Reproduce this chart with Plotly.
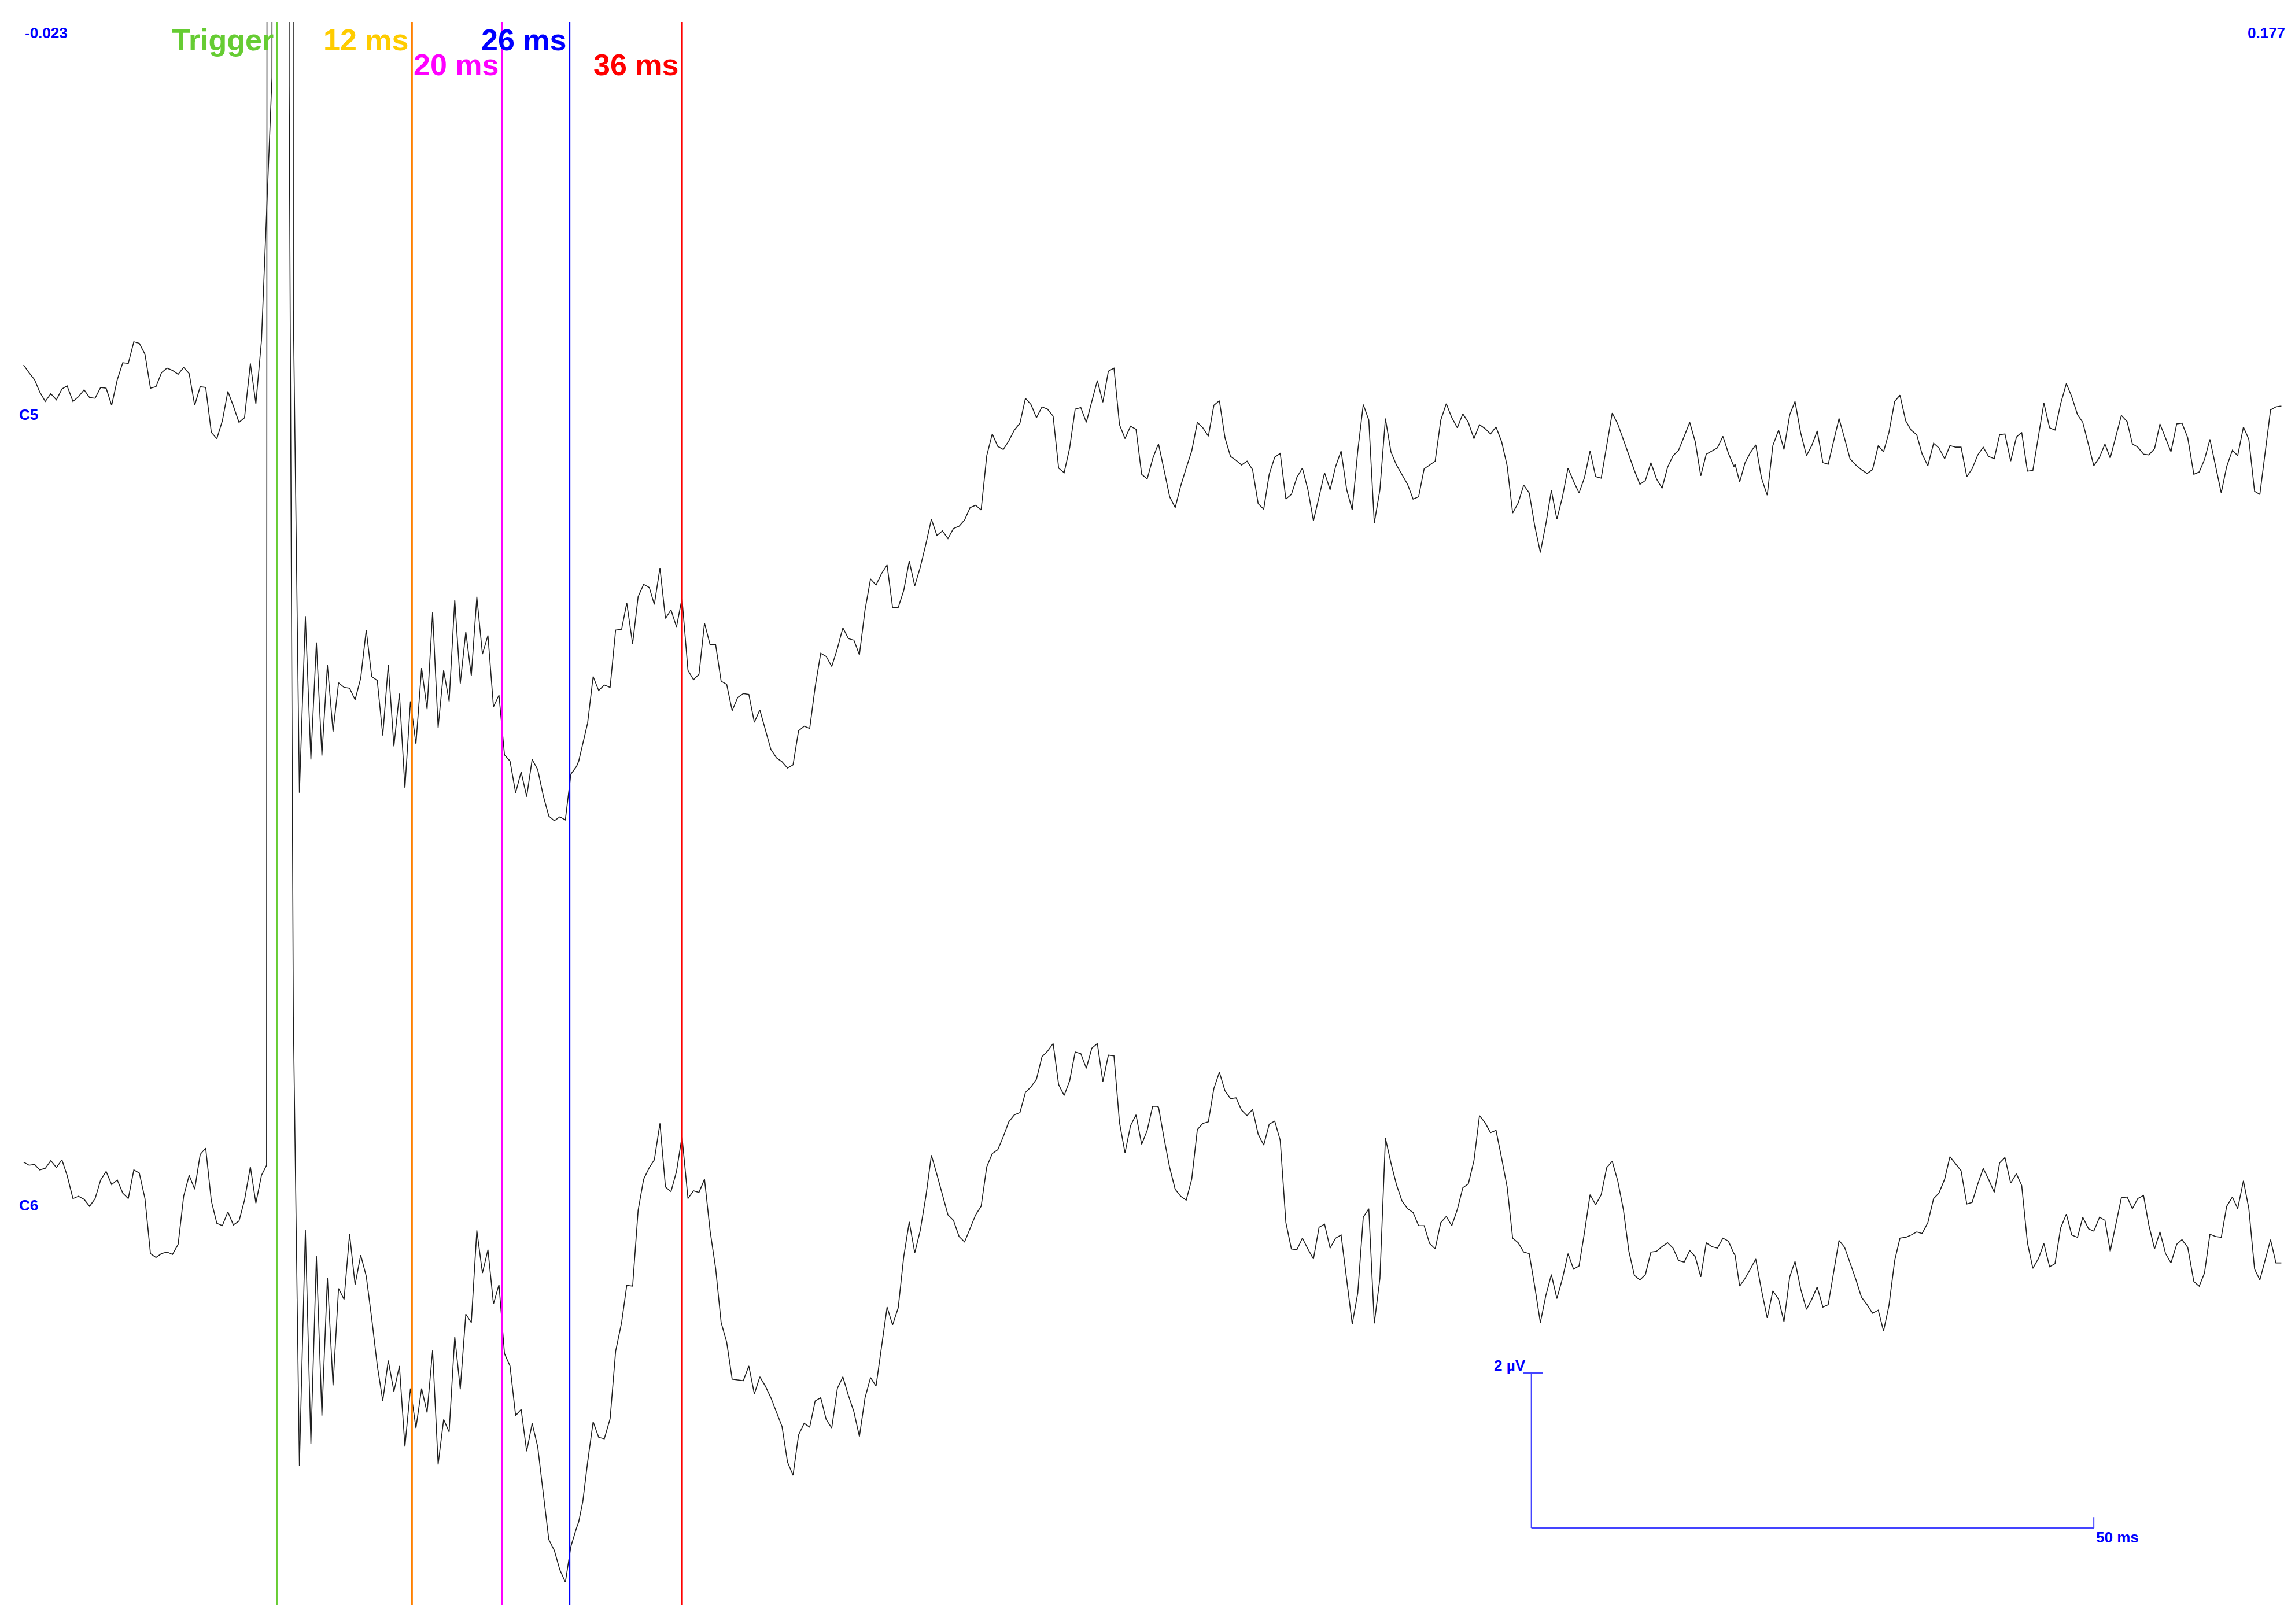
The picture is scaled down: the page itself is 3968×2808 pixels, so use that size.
import plotly.graph_objects as go

# ---------------- data: time (ms) / amplitude (µV) ----------------
# pre-stimulus samples
T_PRE = [-22.53,-22.04,-21.55,-21.09,-20.60,-20.11,-19.61,-19.12,-18.66,-18.14,-17.65,-17.15,-16.66,-16.17,
         -15.68,-15.19,-14.70,-14.20,-13.71,-13.22,-12.73,-12.24,-11.74,-11.25,-10.76,-10.27,-9.78,-9.29,
         -8.79,-8.30,-7.81,-7.32,-6.83,-6.34,-5.84,-5.35,-4.86,-4.37,-3.88,-3.38,-2.89,-2.37,-1.88,-1.38]
C5_PRE = [0.29,0.19,0.10,-0.06,-0.18,-0.08,-0.16,-0.02,0.02,-0.18,-0.12,-0.03,-0.13,-0.14,0.00,-0.01,
          -0.23,0.10,0.32,0.31,0.59,0.57,0.43,-0.01,0.01,0.19,0.25,0.22,0.17,0.26,0.18,-0.23,0.01,0.00,
          -0.58,-0.66,-0.43,-0.05,-0.24,-0.45,-0.39,0.31,-0.21,0.61]
C6_PRE = [0.12,0.08,0.09,0.02,0.04,0.14,0.05,0.15,-0.05,-0.35,-0.32,-0.36,-0.45,-0.35,-0.11,0.00,
          -0.17,-0.11,-0.28,-0.35,0.02,-0.02,-0.35,-1.06,-1.11,-1.06,-1.04,-1.07,-0.94,-0.32,-0.05,-0.23,
          0.22,0.30,-0.38,-0.67,-0.70,-0.52,-0.69,-0.64,-0.37,0.06,-0.41,-0.05]

# stimulus artefact (goes far off-scale)
T_ART_C5 = [-0.45, 0.05, 0.95, 1.45]
C5_ART = [4.0, 200.0, 200.0, 1.0]
T_ART_C6 = [-0.93, -0.45, 0.60, 1.08, 1.45]
C6_ART = [0.08, 200.0, 200.0, 14.0, 2.0]

# 2 - 27 ms
T_A = [1.99,2.52,3.01,3.50,3.99,4.48,4.98,5.47,5.96,6.45,6.94,7.44,7.93,8.42,8.91,9.40,9.89,10.39,10.88,
       11.37,11.86,12.35,12.85,13.34,13.83,14.32,14.81,15.30,15.80,16.29,16.78,17.27,17.76,18.26,18.75,
       19.24,19.73,20.22,20.71,21.21,21.70,22.19,22.68,23.17,23.67,24.16,24.65,25.14,25.63,26.12,26.62]
C5_A = [-5.23,-2.95,-4.80,-3.29,-4.75,-3.58,-4.44,-3.81,-3.87,-3.88,-4.03,-3.75,-3.13,-3.73,-3.78,-4.49,
        -3.58,-4.63,-3.95,-5.17,-4.05,-4.60,-3.62,-4.15,-2.90,-4.39,-3.65,-4.05,-2.74,-3.82,-3.15,-3.72,
        -2.70,-3.44,-3.20,-4.12,-3.97,-4.74,-4.82,-5.23,-4.96,-5.28,-4.80,-4.93,-5.27,-5.53,-5.59,-5.54,
        -5.58,-4.99,-4.89]
C6_A = [-3.80,-0.75,-3.51,-1.09,-3.15,-1.37,-2.76,-1.51,-1.65,-0.81,-1.46,-1.08,-1.35,-1.90,-2.50,-2.96,
        -2.44,-2.84,-2.51,-3.55,-2.80,-3.31,-2.80,-3.11,-2.31,-3.78,-3.20,-3.36,-2.13,-2.81,-1.84,-1.95,
        -0.76,-1.31,-1.01,-1.71,-1.46,-2.35,-2.51,-3.15,-3.07,-3.61,-3.25,-3.55,-4.15,-4.75,-4.89,-5.14,
        -5.30,-4.84,-4.60]

# 27 - 78 ms
T_B = [26.82,27.18,27.61,28.10,28.59,29.09,29.61,30.10,30.63,31.09,31.61,32.10,32.59,33.09,33.54,34.04,
       34.53,35.02,35.51,36.00,36.53,37.02,37.51,38.00,38.50,38.99,39.48,39.97,40.46,40.95,41.45,41.94,
       42.43,42.92,43.41,43.90,44.40,44.89,45.38,45.87,46.36,46.86,47.35,47.84,48.33,48.82,49.31,49.81,
       50.30,50.79,51.28,51.77,52.27,52.76,53.25,53.74,54.23,54.72,55.22,55.71,56.20,56.69,57.18,57.68,
       58.17,58.66,59.15,59.64,60.13,60.63,61.12,61.61,62.10,62.59,63.09,63.58,64.07,64.56,65.05,65.54,
       66.04,66.53,67.02,67.51,68.00,68.49,68.99,69.48,69.97,70.46,70.95,71.45,71.94,72.43,72.92,73.41,
       73.90,74.40,74.89,75.38,75.87,76.36,76.86,77.35,77.84,78.20]
C5_B = [-4.82,-4.60,-4.33,-3.73,-3.91,-3.84,-3.87,-3.13,-3.12,-2.78,-3.31,-2.70,-2.54,-2.58,-2.80,-2.33,
        -2.98,-2.87,-3.09,-2.72,-3.65,-3.77,-3.70,-3.04,-3.32,-3.32,-3.79,-3.83,-4.17,-4.00,-3.95,-3.96,
        -4.32,-4.16,-4.42,-4.67,-4.78,-4.83,-4.91,-4.87,-4.43,-4.37,-4.40,-3.86,-3.43,-3.47,-3.60,-3.37,
        -3.10,-3.24,-3.26,-3.45,-2.87,-2.47,-2.55,-2.40,-2.29,-2.84,-2.84,-2.62,-2.24,-2.56,-2.32,-2.02,
        -1.70,-1.91,-1.85,-1.95,-1.82,-1.79,-1.71,-1.55,-1.52,-1.58,-0.88,-0.60,-0.76,-0.80,-0.69,-0.55,
        -0.46,-0.14,-0.22,-0.39,-0.25,-0.28,-0.37,-1.04,-1.10,-0.78,-0.28,-0.26,-0.45,-0.18,0.09,-0.19,
        0.21,0.25,-0.48,-0.66,-0.50,-0.54,-1.12,-1.18,-0.92,-0.78]
C6_B = [-4.52,-4.26,-3.75,-3.23,-3.43,-3.45,-3.19,-2.32,-1.95,-1.47,-1.48,-0.50,-0.10,0.05,0.15,0.62,
        -0.20,-0.26,0.00,0.45,-0.35,-0.25,-0.27,-0.10,-0.77,-1.25,-1.95,-2.20,-2.68,-2.69,-2.70,-2.51,
        -2.87,-2.65,-2.77,-2.92,-3.10,-3.29,-3.75,-3.92,-3.40,-3.25,-3.30,-2.96,-2.92,-3.20,-3.31,-2.80,
        -2.65,-2.89,-3.10,-3.42,-2.92,-2.66,-2.77,-2.27,-1.75,-1.98,-1.76,-1.10,-0.65,-1.05,-0.76,-0.32,
        0.21,-0.04,-0.30,-0.56,-0.63,-0.84,-0.91,-0.74,-0.56,-0.45,0.06,0.23,0.28,0.45,0.64,0.73,
        0.76,1.02,1.09,1.19,1.48,1.55,1.65,1.12,0.98,1.17,1.54,1.52,1.33,1.59,1.65,1.16,
        1.50,1.49,0.63,0.24,0.59,0.73,0.35,0.53,0.84,0.84]

# 78 - 130 ms
T_C = [78.36,78.86,79.35,79.84,80.33,80.82,81.31,81.81,82.30,82.79,83.28,83.77,84.27,84.76,85.25,85.74,
       86.23,86.72,87.22,87.71,88.20,88.69,89.18,89.68,90.17,90.66,91.15,91.64,92.13,92.63,93.12,93.61,
       94.10,94.59,95.09,95.58,96.07,96.56,97.05,97.54,98.04,98.53,99.02,99.51,100.00,100.50,100.99,
       101.48,101.97,102.46,102.95,103.45,103.94,104.43,104.92,105.41,105.90,106.40,106.89,107.38,107.87,
       108.36,108.86,109.35,109.84,110.33,110.82,111.31,111.81,112.30,112.79,113.28,113.77,114.27,114.76,
       115.25,115.74,116.23,116.72,117.22,117.71,118.20,118.69,119.18,119.68,120.17,120.66,121.15,121.64,
       122.13,122.63,123.12,123.61,124.10,124.59,125.09,125.58,126.07,126.56,127.05,127.54,128.04,128.53,
       129.02,129.51]
C5_C = [-0.73,-1.07,-1.41,-1.55,-1.27,-1.04,-0.82,-0.45,-0.52,-0.63,-0.23,-0.17,-0.65,-0.89,-0.94,-1.00,
        -0.95,-1.06,-1.50,-1.57,-1.12,-0.90,-0.85,-1.44,-1.38,-1.16,-1.04,-1.32,-1.72,-1.41,-1.10,-1.32,
        -1.02,-0.82,-1.32,-1.58,-0.82,-0.22,-0.42,-1.75,-1.32,-0.40,-0.83,-1.00,-1.12,-1.25,-1.44,-1.41,
        -1.05,-1.00,-0.95,-0.42,-0.21,-0.39,-0.52,-0.34,-0.45,-0.66,-0.48,-0.53,-0.60,-0.51,-0.70,-1.01,
        -1.62,-1.49,-1.26,-1.36,-1.79,-2.13,-1.76,-1.33,-1.70,-1.41,-1.04,-1.21,-1.36,-1.16,-0.82,-1.15,
        -1.17,-0.75,-0.33,-0.47,-0.67,-0.88,-1.07,-1.25,-1.20,-0.97,-1.18,-1.30,-1.03,-0.88,-0.81,-0.63,
        -0.45,-0.70,-1.14,-0.86,-0.82,-0.78,-0.63,-0.85,-1.02]
C6_C = [0.83,0.42,0.05,-0.23,-0.32,-0.37,-0.10,0.54,0.62,0.64,1.07,1.28,1.04,0.94,0.95,0.79,0.72,0.80,
        0.48,0.34,0.61,0.65,0.40,-0.66,-1.00,-1.01,-0.86,-1.00,-1.13,-0.72,-0.68,-0.99,-0.86,-0.82,-1.38,
        -1.97,-1.57,-0.59,-0.48,-1.96,-1.38,0.43,0.11,-0.17,-0.38,-0.48,-0.53,-0.70,-0.70,-0.93,-1.00,
        -0.66,-0.58,-0.70,-0.49,-0.21,-0.16,0.14,0.72,0.63,0.50,0.53,0.17,-0.20,-0.86,-0.92,-1.04,-1.06,
        -1.49,-1.95,-1.60,-1.33,-1.64,-1.38,-1.06,-1.26,-1.22,-0.78,-0.30,-0.43,-0.30,0.05,0.13,-0.12,
        -0.49,-1.03,-1.34,-1.40,-1.33,-1.04,-1.03,-0.97,-0.92,-0.99,-1.15,-1.17,-1.02,-1.10,-1.36,-0.92,
        -0.97,-0.99,-0.86,-0.90,-1.06]

# 130 - 178 ms
T_D = [129.61,130.02,130.50,130.97,131.45,131.96,132.47,132.97,133.48,133.96,134.47,134.94,135.45,135.96,
       136.43,136.91,137.42,137.89,138.37,138.85,139.35,139.83,140.34,140.84,141.35,141.83,142.34,142.81,
       143.29,143.80,144.27,144.78,145.26,145.76,146.24,146.75,147.26,147.73,148.24,148.71,149.22,149.70,
       150.21,150.68,151.19,151.67,152.14,152.65,153.13,153.60,154.11,154.62,155.09,155.60,156.08,156.59,
       157.06,157.57,158.05,158.55,159.06,159.54,160.05,160.52,161.03,161.50,162.01,162.49,162.96,163.47,
       163.95,164.46,164.93,165.41,165.92,166.39,166.90,167.38,167.88,168.36,168.87,169.34,169.85,170.39,
       170.87,171.34,171.82,172.33,172.83,173.31,173.82,174.29,174.80,175.28,175.79,176.26,176.74,177.21,
       177.69,178.17]
C5_D = [-0.99,-1.22,-0.97,-0.84,-0.74,-1.17,-1.39,-0.75,-0.55,-0.80,-0.35,-0.18,-0.59,-0.88,-0.75,-0.56,
        -0.97,-0.99,-0.70,-0.40,-0.66,-0.92,-1.00,-1.06,-1.11,-1.06,-0.75,-0.83,-0.58,-0.18,-0.10,-0.43,
        -0.55,-0.61,-0.86,-1.01,-0.72,-0.78,-0.92,-0.75,-0.77,-0.77,-1.15,-1.05,-0.87,-0.77,-0.89,-0.92,
        -0.61,-0.60,-0.95,-0.64,-0.58,-1.08,-1.07,-0.63,-0.20,-0.52,-0.55,-0.21,0.05,-0.12,-0.35,-0.45,
        -0.75,-1.01,-0.90,-0.73,-0.91,-0.63,-0.36,-0.44,-0.73,-0.77,-0.86,-0.87,-0.79,-0.47,-0.65,-0.83,
        -0.47,-0.46,-0.65,-1.12,-1.09,-0.93,-0.67,-1.02,-1.36,-1.02,-0.81,-0.88,-0.51,-0.67,-1.34,-1.38,
        -0.82,-0.29,-0.25,-0.24]
C6_D = [-1.08,-1.48,-1.38,-1.26,-1.13,-1.53,-1.89,-1.54,-1.65,-1.94,-1.36,-1.16,-1.52,-1.78,-1.65,-1.49,
        -1.75,-1.72,-1.30,-0.89,-0.98,-1.18,-1.39,-1.62,-1.72,-1.83,-1.79,-2.06,-1.73,-1.15,-0.86,-0.85,
        -0.82,-0.78,-0.80,-0.66,-0.35,-0.28,-0.10,0.19,0.10,0.01,-0.42,-0.40,-0.16,0.04,-0.10,-0.27,
        0.11,0.18,-0.15,-0.03,-0.18,-0.92,-1.25,-1.12,-0.93,-1.23,-1.19,-0.73,-0.55,-0.82,-0.85,-0.59,
        -0.74,-0.77,-0.59,-0.63,-1.03,-0.68,-0.34,-0.33,-0.48,-0.35,-0.31,-0.69,-1.00,-0.78,-1.06,-1.18,
        -0.94,-0.88,-0.98,-1.42,-1.48,-1.31,-0.81,-0.84,-0.85,-0.45,-0.33,-0.48,-0.12,-0.48,-1.26,-1.40,
        -1.13,-0.88,-1.18,-1.18]

# latency markers
MARK_T = [0, 12, 20, 26, 36]
MARK_LABEL = ["Trigger", "12 ms", "20 ms", "26 ms", "36 ms"]
MARK_LINE_COLOR = ["#66CC33", "#FF8000", "#FF00FF", "#0000FF", "#FF0000"]
MARK_TEXT_COLOR = ["#66CC33", "#FFCC00", "#FF00FF", "#0000FF", "#FF0000"]
MARK_LINE_WIDTH = [2, 3, 3, 3, 3]
MARK_ROW = [0, 0, 1, 0, 1]

# scale bar
SCALE_T0, SCALE_MS = 111.5, 50
SCALE_V0, SCALE_UV = -4.6, 2

# window
X_RANGE = [-22.98, 178.51]
C5_RANGE = [-15.716, 4.716]
C6_RANGE = [-5.60, 14.83]

# ---------------- assemble ----------------
t_c5 = T_PRE + T_ART_C5 + T_A + T_B + T_C + T_D
v_c5 = C5_PRE + C5_ART + C5_A + C5_B + C5_C + C5_D
t_c6 = T_PRE + T_ART_C6 + T_A + T_B + T_C + T_D
v_c6 = C6_PRE + C6_ART + C6_A + C6_B + C6_C + C6_D
assert len(t_c5) == len(v_c5), (len(t_c5), len(v_c5))
assert len(t_c6) == len(v_c6), (len(t_c6), len(v_c6))

TRACE = dict(color="#1e1e1e", width=1.6)
fig = go.Figure()
fig.add_trace(go.Scatter(x=t_c5, y=v_c5, mode="lines", line=TRACE, yaxis="y", hoverinfo="skip"))
fig.add_trace(go.Scatter(x=t_c6, y=v_c6, mode="lines", line=TRACE, yaxis="y2", hoverinfo="skip"))

FONT = "Liberation Sans, Arial, Helvetica, sans-serif"
shapes = []
annotations = []
ROW_Y = [0.98868, 0.97297]
for t, lab, lc, tc, lw, row in zip(MARK_T, MARK_LABEL, MARK_LINE_COLOR, MARK_TEXT_COLOR, MARK_LINE_WIDTH, MARK_ROW):
    shapes.append(dict(type="line", xref="x", yref="paper", x0=t, x1=t, y0=0, y1=1,
                       line=dict(color=lc, width=lw), layer="above"))
    annotations.append(dict(x=t, xref="x", y=ROW_Y[row], yref="paper", text="<b>%s</b>" % lab,
                            showarrow=False, xanchor="right", yanchor="middle", xshift=-4,
                            font=dict(family=FONT, size=52, color=tc)))

SB = dict(color="#4444ff", width=2)
t1 = SCALE_T0 + SCALE_MS
v1 = SCALE_V0 + SCALE_UV
shapes += [
    dict(type="line", xref="x", yref="y2", x0=SCALE_T0, x1=SCALE_T0, y0=SCALE_V0, y1=v1, line=SB),
    dict(type="line", xref="x", yref="y2", x0=SCALE_T0, x1=t1, y0=SCALE_V0, y1=SCALE_V0, line=SB),
    dict(type="line", xref="x", yref="y2", x0=SCALE_T0 - 0.75, x1=SCALE_T0 + 1.0, y0=v1, y1=v1, line=SB),
    dict(type="line", xref="x", yref="y2", x0=t1, x1=t1, y0=SCALE_V0, y1=SCALE_V0 + 0.14, line=SB),
]
BLUE = "#0000FF"
small = dict(family=FONT, size=26, color=BLUE)
annotations += [
    dict(x=SCALE_T0 - 0.4, xref="x", y=v1 + 0.1, yref="y2", text="<b>2 µV</b>", showarrow=False,
         xanchor="right", yanchor="middle", font=small),
    dict(x=t1 + 0.1, xref="x", y=SCALE_V0 - 0.12, yref="y2", text="<b>50 ms</b>", showarrow=False,
         xanchor="left", yanchor="middle", font=small),
    dict(x=0.0022, xref="paper", y=0.99288, yref="paper", text="<b>-0.023</b>", showarrow=False,
         xanchor="left", yanchor="middle", font=small),
    dict(x=1.0005, xref="paper", y=0.99288, yref="paper", text="<b>0.177</b>", showarrow=False,
         xanchor="right", yanchor="middle", font=small),
    dict(x=-0.0003, xref="paper", y=0.75183, yref="paper", text="<b>C5</b>", showarrow=False,
         xanchor="left", yanchor="middle", font=small),
    dict(x=-0.0003, xref="paper", y=0.25292, yref="paper", text="<b>C6</b>", showarrow=False,
         xanchor="left", yanchor="middle", font=small),
]

# the page adds an 8 px body margin, so the figure is 8 px smaller and its margins 8 px tighter
fig.update_layout(
    width=3960, height=2800,
    margin=dict(l=24, r=17, t=30, b=32),
    paper_bgcolor="white", plot_bgcolor="white",
    showlegend=False,
    xaxis=dict(range=X_RANGE, visible=False, fixedrange=True),
    yaxis=dict(range=C5_RANGE, visible=False, fixedrange=True),
    yaxis2=dict(range=C6_RANGE, visible=False, overlaying="y", fixedrange=True),
    shapes=shapes,
    annotations=annotations,
)

fig.write_html("out.html")
